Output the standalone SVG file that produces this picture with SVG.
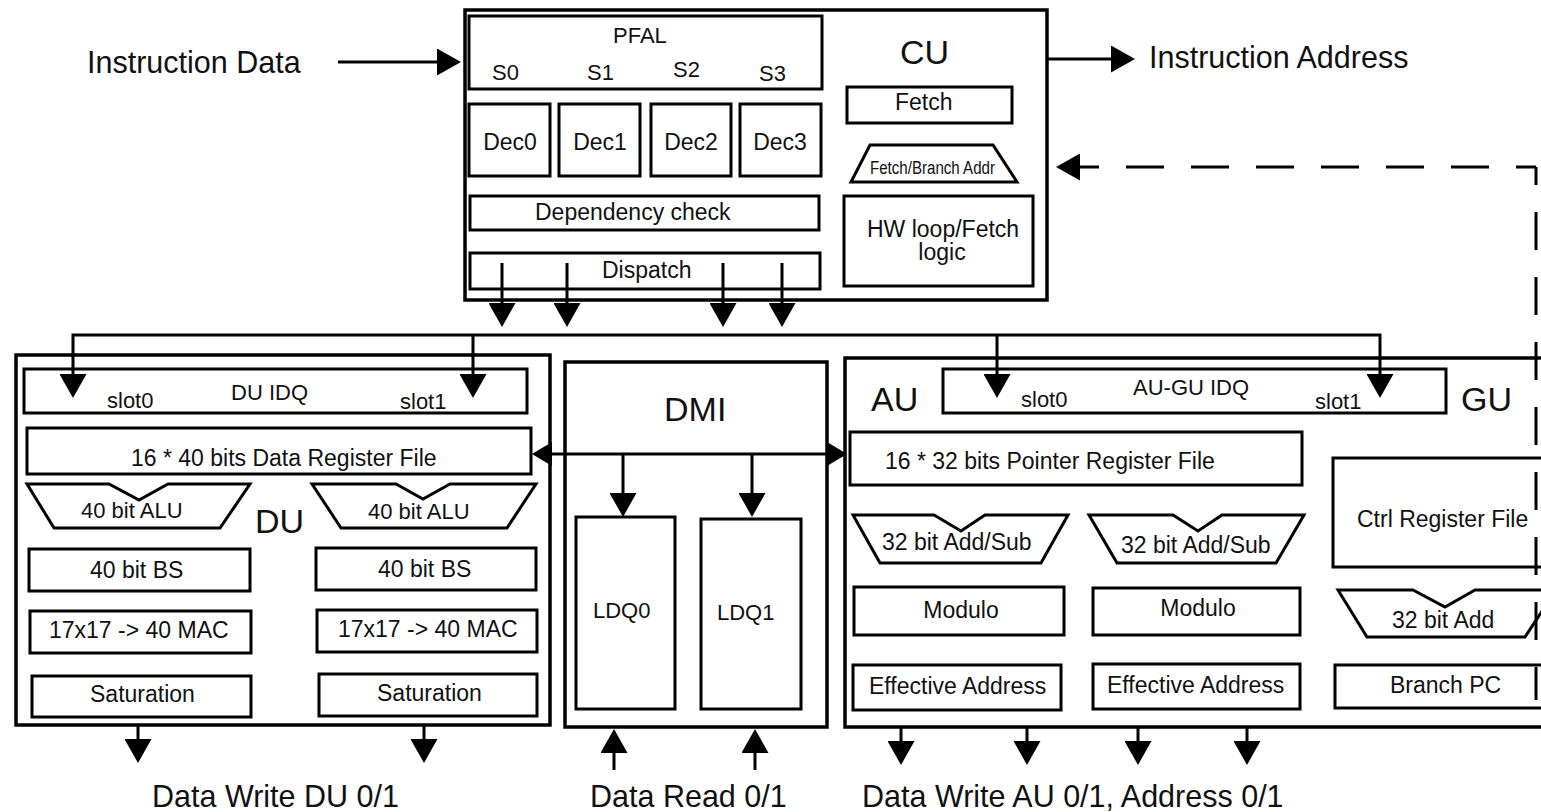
<svg xmlns="http://www.w3.org/2000/svg" width="1541" height="812" viewBox="0 0 1541 812">
  <style>
    text { font-family: "Liberation Sans", Arial, Helvetica, sans-serif; fill: #111; }
    .box { fill: #fff; stroke: #000; stroke-width: 3; }
    .frame { fill: none; stroke: #000; stroke-width: 3.5; }
    .wire { fill: none; stroke: #000; stroke-width: 3; }
    .dash { fill: none; stroke: #000; stroke-width: 3; stroke-dasharray: 38 27; }
    .s { font-size: 23px; }
    .m { font-size: 22px; }
    .big { font-size: 34px; }
    .io { font-size: 30.5px; }
    .c { text-anchor: middle; }
  </style>
  <defs>
    <marker id="head" markerUnits="userSpaceOnUse" viewBox="0 0 24 27" refX="14" refY="13.5" markerWidth="24" markerHeight="27" orient="auto-start-reverse">
      <path d="M0,0 L24,13.5 L0,27 Z" fill="#000"/>
    </marker>
    <marker id="headSmall" markerUnits="userSpaceOnUse" viewBox="0 0 20 24" refX="10" refY="12" markerWidth="20" markerHeight="24" orient="auto-start-reverse">
      <path d="M0,0 L20,12 L0,24 Z" fill="#000"/>
    </marker>
  </defs>

  <rect x="0" y="0" width="1541" height="812" fill="#fff"/>

  <!-- Control unit -->
  <g id="cu">
    <rect class="frame" x="465" y="10" width="582" height="290"/>
    <text class="big" x="900" y="64">CU</text>
    <g id="pfal">
      <rect class="box" x="469" y="16" width="353" height="73"/>
      <text class="m" x="613" y="43">PFAL</text>
      <text class="m" x="492" y="80">S0</text>
      <text class="m" x="587" y="80">S1</text>
      <text class="m" x="673" y="77">S2</text>
      <text class="m" x="759" y="81">S3</text>
    </g>
    <g id="dec0"><rect class="box" x="469" y="104" width="81" height="72"/><text class="s c" x="510" y="150">Dec0</text></g>
    <g id="dec1"><rect class="box" x="559" y="104" width="81" height="72"/><text class="s c" x="600" y="150">Dec1</text></g>
    <g id="dec2"><rect class="box" x="651" y="104" width="80" height="72"/><text class="s c" x="691" y="150">Dec2</text></g>
    <g id="dec3"><rect class="box" x="740" y="104" width="81" height="72"/><text class="s c" x="780" y="150">Dec3</text></g>
    <g id="depcheck"><rect class="box" x="470" y="196" width="349" height="34"/><text class="s" x="535" y="220">Dependency check</text></g>
    <g id="dispatch"><rect class="box" x="470" y="253" width="350" height="36"/><text class="s" x="602" y="278">Dispatch</text></g>
    <g id="fetch"><rect class="box" x="847" y="87" width="165" height="36"/><text class="s" x="895" y="110">Fetch</text></g>
    <g id="fetchaddr">
      <polygon class="box" points="870,145 993,145 1017,182 851,182"/>
      <text x="870" y="174" font-size="18" textLength="125" lengthAdjust="spacingAndGlyphs">Fetch/Branch Addr</text>
    </g>
    <g id="hwloop">
      <rect class="box" x="844" y="196" width="189" height="90"/>
      <text class="s" x="867" y="237">HW loop/Fetch</text>
      <text class="s c" x="942" y="260">logic</text>
    </g>
  </g>

  <!-- Data unit -->
  <g id="du">
    <rect class="frame" x="16" y="355" width="534" height="370"/>
    <text class="big" x="255" y="533">DU</text>
    <g id="du-idq">
      <rect class="box" x="24" y="369" width="503" height="44"/>
      <text class="m" x="231" y="400">DU IDQ</text>
      <text class="m" x="107" y="408">slot0</text>
      <text class="m" x="400" y="409">slot1</text>
    </g>
    <g id="du-rf"><rect class="box" x="27" y="428" width="504" height="46"/><text class="s" x="131" y="466">16 * 40 bits Data Register File</text></g>
    <g id="du-alu0"><polygon class="box" points="27,484 109,484 139,500 168,484 250,484 220,528 54,528"/><text class="m" x="81" y="518">40 bit ALU</text></g>
    <g id="du-alu1"><polygon class="box" points="312,484 396,484 423,499 450,484 536,484 507,528 341,528"/><text class="m" x="368" y="519">40 bit ALU</text></g>
    <g id="du-bs0"><rect class="box" x="29" y="549" width="221" height="42"/><text class="s" x="90" y="578">40 bit BS</text></g>
    <g id="du-bs1"><rect class="box" x="316" y="548" width="220" height="42"/><text class="s" x="378" y="577">40 bit BS</text></g>
    <g id="du-mac0"><rect class="box" x="30" y="611" width="221" height="42"/><text class="s" x="49" y="638">17x17 -&gt; 40 MAC</text></g>
    <g id="du-mac1"><rect class="box" x="317" y="610" width="220" height="42"/><text class="s" x="338" y="637">17x17 -&gt; 40 MAC</text></g>
    <g id="du-sat0"><rect class="box" x="32" y="676" width="219" height="41"/><text class="s" x="90" y="702">Saturation</text></g>
    <g id="du-sat1"><rect class="box" x="319" y="674" width="218" height="42"/><text class="s" x="377" y="701">Saturation</text></g>
  </g>

  <!-- Data memory interface -->
  <g id="dmi">
    <rect class="frame" x="565" y="362" width="262" height="365"/>
    <text class="big" x="664" y="421">DMI</text>
    <g id="ldq0"><rect class="box" x="576" y="517" width="99" height="192"/><text class="m" x="593" y="618">LDQ0</text></g>
    <g id="ldq1"><rect class="box" x="701" y="519" width="100" height="190"/><text class="m" x="717" y="620">LDQ1</text></g>
  </g>

  <!-- Address unit / branch unit -->
  <g id="au">
    <rect class="frame" x="845" y="358" width="730" height="369"/>
    <text class="big" x="871" y="411">AU</text>
    <text class="big" x="1461" y="411">GU</text>
    <g id="au-idq">
      <rect class="box" x="943" y="369" width="503" height="44"/>
      <text class="m" x="1133" y="395">AU-GU IDQ</text>
      <text class="m" x="1021" y="407">slot0</text>
      <text class="m" x="1315" y="409">slot1</text>
    </g>
    <g id="au-rf"><rect class="box" x="850" y="432" width="452" height="53"/><text class="s" x="885" y="469">16 * 32 bits Pointer Register File</text></g>
    <g id="gu-rf"><rect class="box" x="1333" y="458" width="240" height="109"/><text class="s" x="1357" y="527">Ctrl Register File</text></g>
    <g id="au-add0"><polygon class="box" points="853,515 934,515 961,531 985,515 1068,515 1041,563 880,563"/><text class="s" x="882" y="550">32 bit Add/Sub</text></g>
    <g id="au-add1"><polygon class="box" points="1089,515 1173,515 1198,531 1222,515 1304,515 1276,563 1117,563"/><text class="s" x="1121" y="553">32 bit Add/Sub</text></g>
    <g id="gu-add"><polygon class="box" points="1338,590 1413,590 1445,607 1475,590 1556,590 1525,637 1367,637"/><text class="s" x="1392" y="628">32 bit Add</text></g>
    <g id="au-mod0"><rect class="box" x="854" y="587" width="210" height="48"/><text class="s c" x="961" y="618">Modulo</text></g>
    <g id="au-mod1"><rect class="box" x="1093" y="588" width="207" height="47"/><text class="s c" x="1198" y="616">Modulo</text></g>
    <g id="au-ea0"><rect class="box" x="853" y="665" width="208" height="45"/><text class="s" x="869" y="694">Effective Address</text></g>
    <g id="au-ea1"><rect class="box" x="1093" y="664" width="207" height="45"/><text class="s" x="1107" y="693">Effective Address</text></g>
    <g id="gu-pc"><rect class="box" x="1335" y="665" width="240" height="43"/><text class="s" x="1390" y="693">Branch PC</text></g>
  </g>

  <!-- External signal labels -->
  <g id="labels">
    <text class="io" x="87" y="73">Instruction Data</text>
    <text class="io" x="1149" y="68">Instruction Address</text>
    <text class="io" x="152" y="807">Data Write DU 0/1</text>
    <text class="io" x="590" y="807">Data Read 0/1</text>
    <text class="io" x="862" y="807">Data Write AU 0/1, Address 0/1</text>
  </g>

  <!-- Connectors -->
  <g id="connectors">
    <path class="wire" d="M338,62 H451" marker-end="url(#head)"/>
    <path class="wire" d="M1047,59 H1125" marker-end="url(#head)"/>
    <!-- branch feedback from GU to fetch -->
    <path class="dash" d="M1536,167 H1066" stroke-dashoffset="18" marker-end="url(#head)"/>
    <path class="dash" d="M1536,167 V700" stroke-dashoffset="20"/>
    <!-- dispatch to issue bus -->
    <path class="wire" d="M502,263 V317" marker-end="url(#head)"/>
    <path class="wire" d="M567,263 V317" marker-end="url(#head)"/>
    <path class="wire" d="M723,263 V317" marker-end="url(#head)"/>
    <path class="wire" d="M782,263 V317" marker-end="url(#head)"/>
    <!-- issue bus to the instruction queues -->
    <path class="wire" d="M73,388 V335 H1380 V388" marker-start="url(#head)" marker-end="url(#head)"/>
    <path class="wire" d="M473,335 V388" marker-end="url(#head)"/>
    <path class="wire" d="M997,335 V388" marker-end="url(#head)"/>
    <!-- DMI register-file path -->
    <path class="wire" d="M542,454 H837" marker-start="url(#headSmall)" marker-end="url(#headSmall)"/>
    <path class="wire" d="M623,454 V507" marker-end="url(#head)"/>
    <path class="wire" d="M752,454 V507" marker-end="url(#head)"/>
    <!-- memory ports -->
    <path class="wire" d="M138,725 V753" marker-end="url(#head)"/>
    <path class="wire" d="M424,725 V753" marker-end="url(#head)"/>
    <path class="wire" d="M614,770 V739" marker-end="url(#head)"/>
    <path class="wire" d="M755,770 V739" marker-end="url(#head)"/>
    <path class="wire" d="M901,727 V755" marker-end="url(#head)"/>
    <path class="wire" d="M1027,727 V755" marker-end="url(#head)"/>
    <path class="wire" d="M1138,727 V755" marker-end="url(#head)"/>
    <path class="wire" d="M1247,727 V755" marker-end="url(#head)"/>
  </g>
</svg>
